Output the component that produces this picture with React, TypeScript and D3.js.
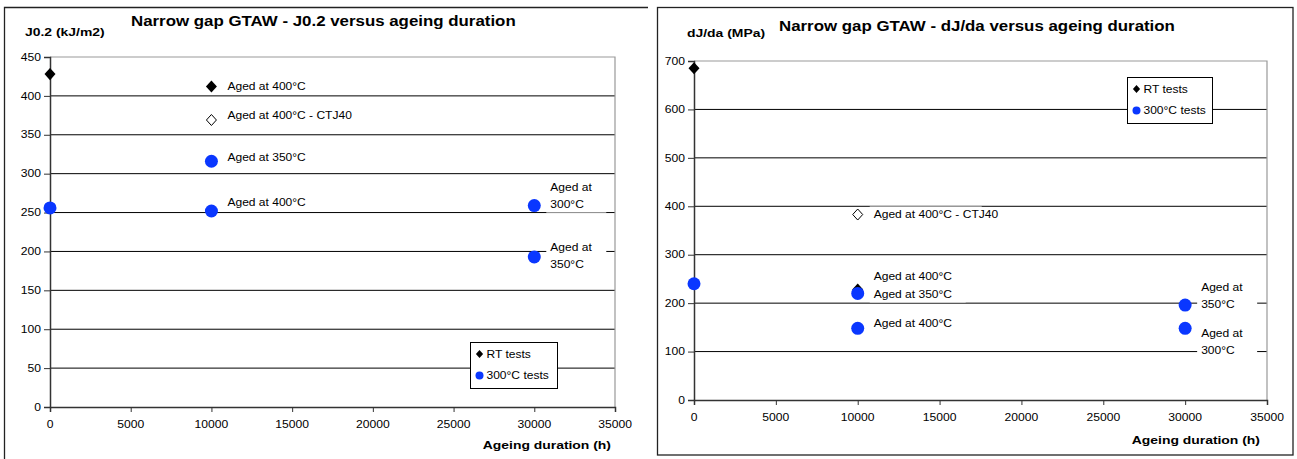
import React, { useEffect, useRef } from 'react';
import * as d3 from 'd3';

// ageing durations (h)
const xTicks = [0, 5000, 10000, 15000, 20000, 25000, 30000, 35000];

// J0.2 panel
const j02Ticks = [0, 50, 100, 150, 200, 250, 300, 350, 400, 450];
const j02RtX = [0, 10000];
const j02RtY = [428, 412];
const j02CtjX = [10000];
const j02CtjY = [369];
const j02HotX = [0, 10000, 10000, 30000, 30000];
const j02HotY = [256, 316, 252, 259, 193];
const j02Notes = [
  { x: 10000, y: 412, lines: ['Aged at 400°C'] },
  { x: 10000, y: 369, lines: ['Aged at 400°C - CTJ40'] },
  { x: 10000, y: 316, lines: ['Aged at 350°C'] },
  { x: 10000, y: 252, lines: ['Aged at 400°C'] },
  { x: 30000, y: 259, lines: ['Aged at', '300°C'] },
  { x: 30000, y: 193, lines: ['Aged at', '350°C'] },
];
// vertical nudge (px) of the first line of each note, relative to its point
const j02NoteShift = [0, -5, -4, -9, -18, -9];

// dJ/da panel
const djdaTicks = [0, 100, 200, 300, 400, 500, 600, 700];
const djdaRtX = [0, 10000];
const djdaRtY = [685, 228];
const djdaCtjX = [10000];
const djdaCtjY = [383];
const djdaHotX = [0, 10000, 10000, 30000, 30000];
const djdaHotY = [240, 220, 148, 196, 148];
const djdaNotes = [
  { x: 10000, y: 383, lines: ['Aged at 400°C - CTJ40'] },
  { x: 10000, y: 228, lines: ['Aged at 400°C'] },
  { x: 10000, y: 220, lines: ['Aged at 350°C'] },
  { x: 10000, y: 148, lines: ['Aged at 400°C'] },
  { x: 30000, y: 196, lines: ['Aged at', '350°C'] },
  { x: 30000, y: 148, lines: ['Aged at', '300°C'] },
];
const djdaNoteShift = [0, -13, 1, -5, -18, 5];

const legendNames = ['RT tests', '300°C tests'];

const FONT = '"Liberation Sans", Arial, sans-serif';
const SX = 1.18; // the source text is horizontally stretched
const BLUE = '#0a37ff';

interface PanelCfg {
  frame: 'open' | 'box';
  fx0: number; fy0: number; fx1: number; fy1: number;
  px0: number; px1: number; py0: number; py1: number;
  yTicks: number[];
  title: string; titleX: number; titleY: number;
  yTitle: string; yTitleX: number; yTitleY: number;
  xTitleX: number; xTitleY: number;
  legend: { x: number; y: number; w: number; h: number };
  rtX: number[]; rtY: number[];
  ctjX: number[]; ctjY: number[];
  hotX: number[]; hotY: number[];
  notes: { x: number; y: number; lines: string[] }[];
  shift: number[];
}

const diamond = (r: number) => `M0,${-r * 1.1}L${r},0L0,${r * 1.1}L${-r},0Z`;

function drawPanel(svg: d3.Selection<SVGSVGElement, unknown, null, undefined>, c: PanelCfg) {
  const g = svg.append('g');

  const put = (x: number, y: number, txt: string, size: number, anchor = 'start', bold = false) =>
    g.append('text')
      .attr('transform', `translate(${x},${y}) scale(${SX},1)`)
      .attr('text-anchor', anchor)
      .style('font-family', FONT)
      .style('font-size', `${size}px`)
      .style('font-weight', bold ? '700' : '400')
      .style('fill', '#000')
      .text(txt);

  // outer frame
  if (c.frame === 'box') {
    g.append('rect')
      .attr('x', c.fx0).attr('y', c.fy0)
      .attr('width', c.fx1 - c.fx0).attr('height', c.fy1 - c.fy0)
      .attr('fill', '#fff').attr('stroke', '#222').attr('stroke-width', 1.3);
  } else {
    g.append('path')
      .attr('d', `M${c.fx1},${c.fy0}H${c.fx0}V${c.fy1}`)
      .attr('fill', 'none').attr('stroke', '#222').attr('stroke-width', 1.3);
  }

  const x = d3.scaleLinear().domain([0, 35000]).range([c.px0, c.px1]);
  const yMax = c.yTicks[c.yTicks.length - 1];
  const y = d3.scaleLinear().domain([0, yMax]).range([c.py1, c.py0]);

  // gridlines
  g.append('g')
    .selectAll('line')
    .data(c.yTicks.filter(t => t > 0 && t < yMax))
    .join('line')
    .attr('x1', c.px0).attr('x2', c.px1)
    .attr('y1', d => y(d)).attr('y2', d => y(d))
    .attr('stroke', '#000').attr('stroke-width', 1);

  // plot border top/right
  g.append('path')
    .attr('d', `M${c.px0},${y(yMax)}H${c.px1}V${c.py1}`)
    .attr('fill', 'none').attr('stroke', '#999').attr('stroke-width', 1.2);

  // axes
  const xAxis = g.append('g')
    .attr('transform', `translate(0,${c.py1})`)
    .call(d3.axisBottom(x).tickValues(xTicks).tickSize(5).tickFormat(() => ''));
  xAxis.select('.domain').attr('stroke', '#333').attr('stroke-width', 1.5);
  xAxis.selectAll('.tick line').attr('stroke', '#333');

  const yAxis = g.append('g')
    .attr('transform', `translate(${c.px0},0)`)
    .call(d3.axisLeft(y).tickValues(c.yTicks).tickSize(6).tickFormat(() => ''));
  yAxis.select('.domain').attr('stroke', '#333').attr('stroke-width', 1.5);
  yAxis.selectAll('.tick line').attr('stroke', '#333');

  xTicks.forEach(t => put(x(t), c.py1 + 21, String(t), 10.3, 'middle'));
  c.yTicks.forEach(t => put(c.px0 - 9, y(t) + 3.7, String(t), 10.3, 'end'));

  // titles
  put(c.titleX, c.titleY, c.title, 14.3, 'start', true);
  put(c.yTitleX, c.yTitleY, c.yTitle, 11.8, 'start', true);
  put(c.xTitleX, c.xTitleY, 'Ageing duration (h)', 11.8, 'end', true);

  // data notes with white backing
  c.notes.forEach((n, i) => {
    const lx = x(n.x) + 16;
    const cy = y(n.y) + c.shift[i];
    const lh = 17;
    const w = d3.max(n.lines, l => l.length) as number;
    const boxW = n.lines.length > 1 ? 60 : (w > 14 ? 112 : 96);
    g.append('rect')
      .attr('x', lx - 4).attr('y', cy - 8)
      .attr('width', boxW).attr('height', lh * (n.lines.length - 1) + 16)
      .attr('fill', '#fff');
    n.lines.forEach((l, k) => put(lx, cy + k * lh + 3.6, l, 10.2));
  });

  // series
  g.append('g').selectAll('path')
    .data(d3.zip(c.rtX, c.rtY))
    .join('path')
    .attr('transform', d => `translate(${x(d[0])},${y(d[1])})`)
    .attr('d', diamond(5.5))
    .attr('fill', '#000');

  g.append('g').selectAll('path')
    .data(d3.zip(c.ctjX, c.ctjY))
    .join('path')
    .attr('transform', d => `translate(${x(d[0])},${y(d[1])})`)
    .attr('d', diamond(5))
    .attr('fill', '#fff').attr('stroke', '#000').attr('stroke-width', 1);

  g.append('g').selectAll('circle')
    .data(d3.zip(c.hotX, c.hotY))
    .join('circle')
    .attr('cx', d => x(d[0])).attr('cy', d => y(d[1]))
    .attr('r', 6.5)
    .attr('fill', BLUE);

  // legend
  const L = c.legend;
  g.append('rect')
    .attr('x', L.x).attr('y', L.y).attr('width', L.w).attr('height', L.h)
    .attr('fill', '#fff').attr('stroke', '#000').attr('stroke-width', 1);
  const r1 = L.y + L.h * 0.25;
  const r2 = L.y + L.h * 0.72;
  g.append('path').attr('transform', `translate(${L.x + 9},${r1})`).attr('d', diamond(3.6)).attr('fill', '#000');
  g.append('circle').attr('cx', L.x + 9).attr('cy', r2).attr('r', 4).attr('fill', BLUE);
  put(L.x + 16, r1 + 3.6, legendNames[0], 10.2);
  put(L.x + 16, r2 + 3.6, legendNames[1], 10.2);
}

export default function App() {
  const svgRef = useRef<SVGSVGElement>(null);

  useEffect(() => {
    if (!svgRef.current) return;
    const svg = d3.select(svgRef.current);
    svg.selectAll('*').remove();

    svg.append('rect').attr('width', 1297).attr('height', 459).attr('fill', '#fff');

    drawPanel(svg, {
      frame: 'open', fx0: 4.5, fy0: 7.5, fx1: 648, fy1: 459,
      px0: 50, px1: 615, py0: 57, py1: 407,
      yTicks: j02Ticks,
      title: 'Narrow gap GTAW - J0.2 versus ageing duration', titleX: 131, titleY: 26,
      yTitle: 'J0.2 (kJ/m2)', yTitleX: 25, yTitleY: 36,
      xTitleX: 611, xTitleY: 449,
      legend: { x: 470.5, y: 342.5, w: 87, h: 46 },
      rtX: j02RtX, rtY: j02RtY, ctjX: j02CtjX, ctjY: j02CtjY, hotX: j02HotX, hotY: j02HotY,
      notes: j02Notes, shift: j02NoteShift,
    });

    drawPanel(svg, {
      frame: 'box', fx0: 657.5, fy0: 7.5, fx1: 1293, fy1: 455,
      px0: 694, px1: 1267, py0: 61, py1: 400,
      yTicks: djdaTicks,
      title: 'Narrow gap GTAW - dJ/da versus ageing duration', titleX: 779, titleY: 31,
      yTitle: 'dJ/da (MPa)', yTitleX: 687, yTitleY: 37,
      xTitleX: 1260, xTitleY: 444,
      legend: { x: 1127.5, y: 77.5, w: 85, h: 46 },
      rtX: djdaRtX, rtY: djdaRtY, ctjX: djdaCtjX, ctjY: djdaCtjY, hotX: djdaHotX, hotY: djdaHotY,
      notes: djdaNotes, shift: djdaNoteShift,
    });
  }, []);

  return (
    <svg
      ref={svgRef}
      width={1297}
      height={459}
      style={{ position: 'absolute', left: 0, top: 0, display: 'block' }}
    />
  );
}
